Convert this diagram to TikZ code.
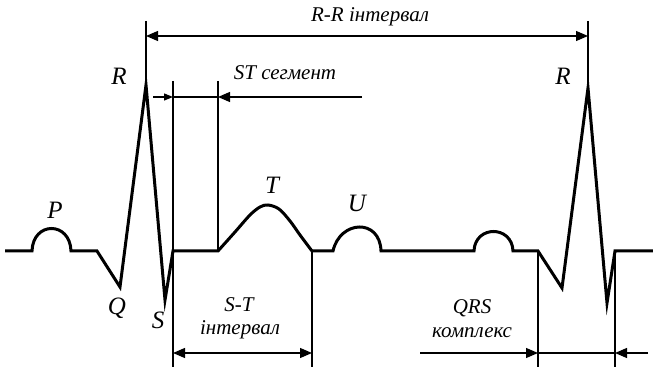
\documentclass[tikz,border=0pt]{standalone}
\usepackage{fontspec}
\setmainfont{Liberation Serif}
\usetikzlibrary{arrows.meta}

\begin{document}
\begin{tikzpicture}[
    x=0.5pt, y=0.5pt,
    wave/.style={line width=1.5pt},
    guide/.style={line width=0.6pt},
    tip/.style={-{Triangle[length=6pt, width=5pt]}, line width=0.6pt},
    tipboth/.style={{Triangle[length=6pt, width=5pt]}-{Triangle[length=6pt, width=5pt]}, line width=0.6pt},
    smalltip/.style={-{Triangle[length=4.5pt, width=3.5pt]}, line width=0.6pt},
    lbl/.style={font=\fontsize{10.5}{12}\selectfont\itshape, inner sep=0pt},
    peak/.style={font=\fontsize{12.5}{14}\selectfont\itshape, inner sep=0pt}
]
\useasboundingbox (0,0) rectangle (653,369);

\coordinate (r1) at (146,284);
\coordinate (r2) at (588,281);
\coordinate (r1top) at (146,348);
\coordinate (r2top) at (588,348);
\coordinate (rr1) at (146,333);
\coordinate (rr2) at (588,333);

\coordinate (s1top) at (173,288);
\coordinate (s1bot) at (173,2);
\coordinate (t1top) at (218,288);
\coordinate (t1bot) at (218,118);
\coordinate (st0) at (153,272);
\coordinate (st1) at (173,272);
\coordinate (st2) at (218,272);
\coordinate (st3) at (362,272);

\coordinate (te) at (312,118);
\coordinate (tebot) at (312,2);
\coordinate (sti1) at (173,16);
\coordinate (sti2) at (312,16);

\coordinate (q2) at (538,118);
\coordinate (q2bot) at (538,2);
\coordinate (s2) at (615,118);
\coordinate (s2bot) at (615,2);
\coordinate (qrs0) at (420,16);
\coordinate (qrs1) at (538,16);
\coordinate (qrs2) at (615,16);
\coordinate (qrs3) at (648,16);

\draw[wave] (5,118) -- (32,118) .. controls (33,148) and (70,148) .. (71,118)
    -- (97,118) -- (120,82) -- (r1) -- (165,69) -- (173,118) -- (t1bot)
    -- plot[smooth, tension=0.55] coordinates {(218,118) (235,137) (250,154) (260,162) (268,164) (279,160) (290,148) (300,134) (312,118)}
    -- (333,118) .. controls (340,149) and (380,151) .. (381,118)
    -- (474,118) .. controls (475,144) and (512,144) .. (513,118)
    -- (q2) -- (562,81) -- (r2) -- (607,66) -- (s2) -- (653,118);

\draw[guide] (r1top) -- (r1);
\draw[guide] (r2top) -- (r2);
\draw[tipboth] (rr1) -- (rr2);

\draw[guide] (s1top) -- (s1bot);
\draw[guide] (t1top) -- (t1bot);
\draw[smalltip] (st0) -- (st1);
\draw[guide] (st1) -- (st2);
\draw[tip] (st3) -- (st2);

\draw[guide] (te) -- (tebot);
\draw[tipboth] (sti1) -- (sti2);

\draw[guide] (q2) -- (q2bot);
\draw[guide] (s2) -- (s2bot);
\draw[tip] (qrs0) -- (qrs1);
\draw[guide] (qrs1) -- (qrs2);
\draw[tip] (qrs3) -- (qrs2);

\node[peak] (lr1) at (119,293) {R};
\node[peak] (lr2) at (563,293) {R};
\node[peak] (lp) at (55,159) {P};
\node[peak] (lq) at (117,61) {Q};
\node[peak] (ls) at (158,49) {S};
\node[peak] (lt) at (272,184) {T};
\node[peak] (lu) at (357,166) {U};
\node[lbl] (lrr) at (370,352) {R-R інтервал};
\node[lbl] (lst) at (285,296) {ST сегмент};
\node[lbl] (lsti) at (239,64) {S-T};
\node[lbl] (lsti2) at (240,39) {інтервал};
\node[lbl] (lqrs) at (472,61) {QRS};
\node[lbl] (lqrs2) at (472,36) {комплекс};
\end{tikzpicture}
\end{document}
